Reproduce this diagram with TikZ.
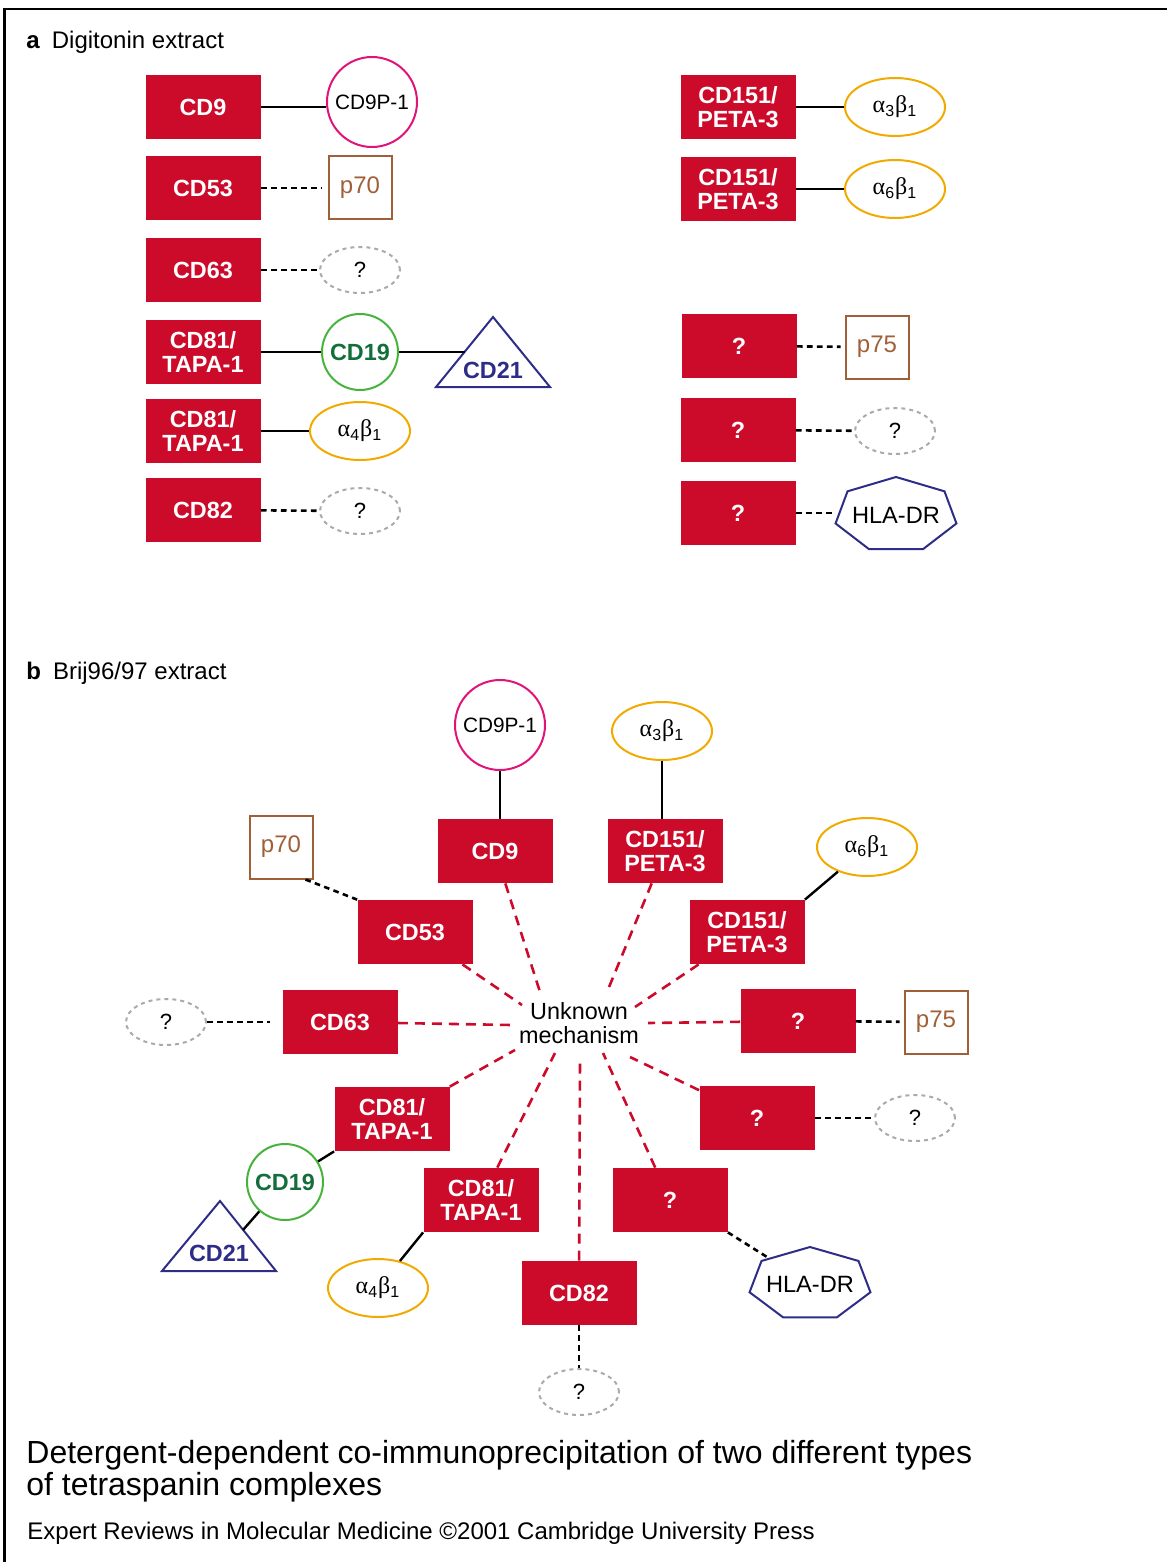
\documentclass[tikz,border=0pt]{standalone}
\usepackage{fontspec}
\setmainfont{Liberation Sans}
\newfontfamily\grkfont{Liberation Serif}
\usepackage{amsmath}
\usepackage{xcolor}
\usepackage{tikz}
\usetikzlibrary{shapes.geometric,calc,positioning}
\definecolor{tspred}{RGB}{204,10,42}
\definecolor{ringmag}{RGB}{224,20,120}
\definecolor{pbrown}{RGB}{160,95,55}
\definecolor{qgray}{RGB}{170,170,170}
\definecolor{cdgreen}{RGB}{70,180,60}
\definecolor{cddkgreen}{RGB}{20,110,60}
\definecolor{cdnavy}{RGB}{45,45,135}
\definecolor{intorange}{RGB}{240,170,0}
\newcommand{\ab}[2]{{\grkfont α}\textsubscript{#1}{\grkfont β}\textsubscript{#2}}

\tikzset{
  tsp/.style={fill=tspred,text=white,font=\fontsize{11.7}{12}\selectfont\bfseries,
              minimum width=57.5pt,minimum height=32pt,inner sep=0pt,align=center},
  ring/.style={circle,draw=ringmag,line width=1pt,minimum size=45pt,inner sep=0pt,
               font=\fontsize{10.4}{12}\selectfont},
  cdring/.style={circle,draw=cdgreen,line width=1pt,minimum size=38pt,inner sep=0pt,
                 text=cddkgreen,font=\fontsize{11.7}{12}\selectfont\bfseries},
  integ/.style={ellipse,draw=intorange,line width=1pt,minimum width=50pt,minimum height=29pt,
                inner sep=0pt,font=\fontsize{12}{12}\selectfont},
  unkq/.style={ellipse,draw=qgray,line width=1pt,dash pattern=on 2pt off 2pt,
               minimum width=40pt,minimum height=23pt,inner sep=0pt,font=\fontsize{11}{12}\selectfont},
  pbox/.style={draw=pbrown,line width=1pt,text=pbrown,minimum size=31.5pt,inner sep=0pt,
               font=\fontsize{12}{12}\selectfont},
  trilabel/.style={text=cdnavy,font=\fontsize{11.7}{12}\selectfont\bfseries,inner sep=0pt},
  hlalabel/.style={ellipse,minimum width=61pt,minimum height=36pt,inner sep=0pt,
                   font=\fontsize{11.8}{12}\selectfont},
  outline/.style={draw=cdnavy,line width=1pt,line join=miter},
  link/.style={line width=1.2pt},
  weak/.style={line width=1.3pt,dash pattern=on 2.8pt off 2.2pt},
  unklink/.style={draw=tspred,line width=1.3pt,dash pattern=on 5pt off 3.5pt},
  title/.style={anchor=base west,inner sep=0pt,font=\fontsize{12}{13}\selectfont}
}

\begin{document}
\begin{tikzpicture}[x=0.5pt,y=-0.5pt]
\useasboundingbox (0,0) rectangle (1167,1562);
\draw[line width=1.2pt] (4.5,1562) -- (4.5,9) -- (1167,9);

% panel a
\node[title] (ta) at (26,49) {\textbf{a}\enspace Digitonin extract};

\node[tsp] (cd9a) at (203,107) {CD9};
\node[tsp] (cd53a) at (203,188) {CD53};
\node[tsp] (cd63a) at (203,270) {CD63};
\node[tsp] (cd81a) at (203,352) {CD81/\\TAPA-1};
\node[tsp] (cd81b) at (203,431) {CD81/\\TAPA-1};
\node[tsp] (cd82a) at (203,510) {CD82};

\node[ring] (cd9pa) at (372,102) {CD9P-1};
\node[pbox] (p70a) at (360,188) {p70};
\node[unkq] (qa1) at (360,270) {?};
\node[cdring] (cd19a) at (360,352) {CD19};
\node[trilabel] (cd21a) at (493,370) {CD21};
\draw[outline] ($(cd21a)+(0,-53)$) -- ($(cd21a)+(57,17)$) -- ($(cd21a)+(-57,17)$) -- cycle;
\coordinate (cd21aE) at (465,352);
\node[integ] (a4a) at (360,431) {\ab{4}{1}};
\node[unkq] (qa2) at (360,511) {?};

\draw[link] (cd9a.east) -- (cd9a.east -| cd9pa.west);
\draw[weak, shorten >=3pt] (cd53a) -- (p70a);
\draw[weak] (cd63a) -- (qa1);
\draw[link] (cd81a) -- (cd19a);
\draw[link] (cd19a) -- (cd21aE);
\draw[link] (cd81b) -- (a4a);
\draw[weak] (cd82a) -- (qa2);

\node[tsp] (cd151a) at (738,107) {CD151/\\PETA-3};
\node[tsp] (cd151b) at (738,189) {CD151/\\PETA-3};
\node[tsp] (qa3) at (739,346) {?};
\node[tsp] (qa4) at (738,430) {?};
\node[tsp] (qa5) at (738,513) {?};

\node[integ] (a3a) at (895,107) {\ab{3}{1}};
\node[integ] (a6a) at (895,189) {\ab{6}{1}};
\node[pbox] (p75a) at (877,347) {p75};
\node[unkq] (qa6) at (895,431) {?};
\node[hlalabel] (hlaa) at (896,515) {HLA-DR};
\draw[outline,shift={(hlaa.center)}] (90:31pt and 19pt)
  \foreach \k in {1,...,6} { -- ({90+\k*360/7}:31pt and 19pt) } -- cycle;

\draw[link] (cd151a) -- (a3a);
\draw[link] (cd151b) -- (a6a);
\draw[weak, shorten >=2pt] (qa3) -- (p75a);
\draw[weak] (qa4) -- (qa6);
\draw[weak] (qa5.east) -- (qa5.east -| hlaa.west);

% panel b
\node[title] (tb) at (26,679) {\textbf{b}\enspace Brij96/97 extract};

\node[font=\fontsize{11.7}{12}\selectfont,align=center,inner sep=0pt] (unk) at (579,1023) {Unknown\\mechanism};

\node[ring] (cd9pb) at (500,725) {CD9P-1};
\node[tsp] (cd9b) at (495,851) {CD9};
\node[integ] (a3b) at (662,731) {\ab{3}{1}};
\node[tsp] (cd151c) at (665,851) {CD151/\\PETA-3};
\node[integ] (a6b) at (867,847) {\ab{6}{1}};
\node[tsp] (cd151d) at (747,932) {CD151/\\PETA-3};
\node[pbox] (p70b) at (281,847) {p70};
\node[tsp] (cd53b) at (415,932) {CD53};
\node[unkq] (qb1) at (166,1022) {?};
\node[tsp] (cd63b) at (340,1022) {CD63};
\node[tsp] (qb2) at (798,1021) {?};
\node[pbox] (p75b) at (936,1022) {p75};
\node[tsp] (cd81c) at (392,1119) {CD81/\\TAPA-1};
\node[cdring] (cd19b) at (285,1182) {CD19};
\node[trilabel] (cd21b) at (219,1253) {CD21};
\draw[outline] ($(cd21b)+(1,-52)$) -- ($(cd21b)+(57,18)$) -- ($(cd21b)+(-57,18)$) -- cycle;
\coordinate (cd21bE) at (243,1230);
\node[tsp] (cd81d) at (481,1200) {CD81/\\TAPA-1};
\node[integ] (a4b) at (378,1288) {\ab{4}{1}};
\node[tsp] (qb3) at (757,1118) {?};
\node[unkq] (qb4) at (915,1118) {?};
\node[tsp] (qb5) at (670,1200) {?};
\node[hlalabel] (hlab) at (810,1284) {HLA-DR};
\draw[outline,shift={(hlab.center)}] (90:31pt and 18.5pt)
  \foreach \k in {1,...,6} { -- ({90+\k*360/7}:31pt and 18.5pt) } -- cycle;
\node[tsp] (cd82b) at (579,1293) {CD82};
\node[unkq] (qb6) at (579,1392) {?};

\draw[link] (cd9pb) -- (cd9pb |- cd9b.north);
\draw[link] (a3b) -- (a3b |- cd151c.north);
\draw[link] (cd151d.north east) -- (a6b);
\draw[weak] ($(p70b.south east)+(-8,0)$) -- (cd53b.north west);
\draw[weak, shorten >=6pt] (qb1) -- (cd63b);
\draw[weak, shorten >=2pt] (qb2) -- (p75b);
\draw[link] (cd81c.south west) -- (cd19b);
\draw[link] (cd19b) -- (cd21bE);
\draw[link] (cd81d.south west) -- (a4b);
\draw[weak] (qb3) -- (qb4);
\draw[weak] (qb5.south east) -- (hlab);
\draw[weak] (cd82b) -- (qb6);

\foreach \n/\dx/\dy in {cd9b/-39/-31, cd151c/28/-31, cd151d/56/-16, cd53b/-57/-18,
    cd63b/-67/2, qb2/69/0, cd81c/-64/27, cd81d/-24/30, cd82b/1/35, qb5/24/30, qb3/51/34}
  \draw[unklink] (\n) -- ($(unk)+(\dx,\dy)$);

% caption
\node[anchor=base west,inner sep=0pt,font=\fontsize{16}{16}\selectfont] (capt1) at (26,1463)
  {Detergent-dependent co-immunoprecipitation of two different types};
\node[anchor=base west,inner sep=0pt,font=\fontsize{16}{16}\selectfont] (capt2) at (26,1495)
  {of tetraspanin complexes};
\node[anchor=base west,inner sep=0pt,font=\fontsize{12}{13}\selectfont] (cred) at (27,1539)
  {Expert Reviews in Molecular Medicine \textcopyright2001 Cambridge University Press};
\end{tikzpicture}
\end{document}
